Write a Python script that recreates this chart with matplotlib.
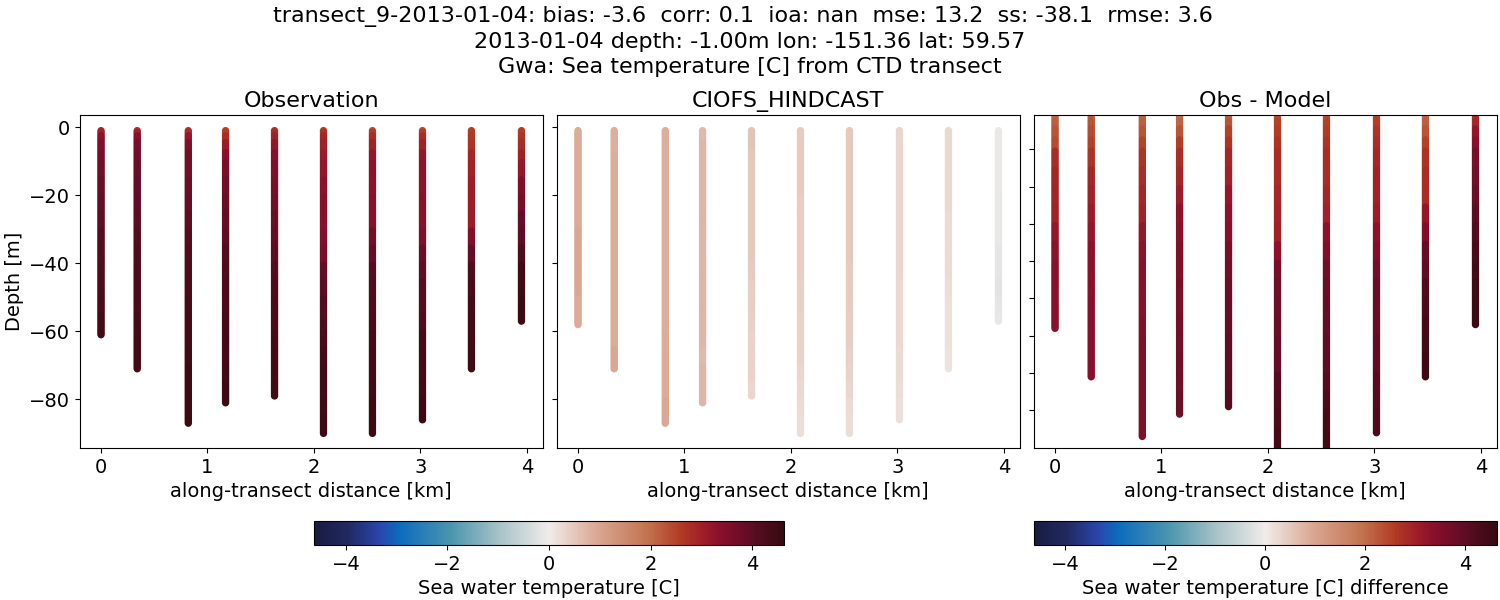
import numpy as np
import matplotlib
matplotlib.use('Agg')
import matplotlib.pyplot as plt
from matplotlib.colors import LinearSegmentedColormap, Normalize
from matplotlib.cm import ScalarMappable

# station positions along the transect [km]
distance = [0, 0.34, 0.82, 1.17, 1.63, 2.09, 2.55, 3.02, 3.48, 3.95]

# deepest sample per station [m]
obs_depth = [61, 71, 87, 81, 79, 90, 90, 86, 71, 57]
model_depth = [58, 71, 87, 81, 79, 90, 90, 86, 71, 57]

# lower edge of each depth layer the values below were read for [m]
layers = [1, 2, 4, 7, 10, 15, 20, 25, 30, 35, 40, 45, 50, 55, 60, 65, 70, 75, 80, 85, 90]

obs_temp = [
    [2.8, 3.0, 3.3, 3.5, 3.6, 3.7, 3.8, 3.9, 4.0, 4.1, 4.15, 4.2, 4.25, 4.3, 4.35, 4.4],
    [2.7, 3.0, 3.4, 3.6, 3.7, 3.8, 3.9, 3.95, 4.05, 4.15, 4.2, 4.25, 4.3, 4.3, 4.35, 4.4, 4.4, 4.4],
    [2.7, 2.8, 3.2, 3.5, 3.7, 3.7, 3.8, 3.9, 4.05, 4.15, 4.2, 4.25, 4.3, 4.35, 4.4, 4.4, 4.45, 4.5, 4.5, 4.55, 4.55],
    [2.5, 2.6, 2.8, 3.1, 3.4, 3.6, 3.7, 3.8, 3.9, 4.0, 4.15, 4.2, 4.3, 4.3, 4.35, 4.4, 4.4, 4.45, 4.5, 4.5],
    [2.7, 2.8, 3.0, 3.2, 3.4, 3.5, 3.6, 3.7, 3.8, 3.9, 4.0, 4.1, 4.2, 4.3, 4.3, 4.35, 4.4, 4.4, 4.45],
    [2.6, 2.7, 2.9, 3.0, 3.1, 3.2, 3.3, 3.4, 3.4, 3.5, 3.6, 3.9, 4.0, 4.1, 4.2, 4.3, 4.35, 4.4, 4.4, 4.45, 4.5],
    [2.4, 2.6, 2.8, 3.0, 3.2, 3.3, 3.3, 3.4, 3.4, 3.7, 3.9, 4.1, 4.2, 4.25, 4.3, 4.35, 4.4, 4.4, 4.45, 4.5, 4.5],
    [2.4, 2.6, 2.8, 3.0, 3.2, 3.3, 3.3, 3.4, 3.4, 3.5, 3.8, 4.0, 4.1, 4.15, 4.2, 4.35, 4.4, 4.4, 4.45, 4.5, 4.5],
    [2.6, 2.6, 2.65, 2.7, 2.9, 3.0, 3.05, 3.05, 3.1, 3.5, 3.9, 4.2, 4.3, 4.35, 4.4, 4.4, 4.45, 4.45],
    [2.6, 2.6, 2.7, 2.85, 3.0, 3.2, 3.5, 3.6, 3.9, 4.0, 4.2, 4.4, 4.45, 4.5, 4.5],
]

model_temp = [
    [0.9, 0.9, 0.9, 0.9, 0.9, 0.9, 0.9, 0.9, 0.9, 0.95, 0.95, 0.95, 0.95, 0.9, 0.9],
    [0.85, 0.85, 0.85, 0.85, 0.85, 0.9, 0.9, 0.9, 0.9, 0.9, 0.9, 0.9, 0.9, 0.9, 0.9, 0.9, 0.95, 0.95],
    [0.85, 0.85, 0.85, 0.85, 0.85, 0.85, 0.85, 0.85, 0.85, 0.85, 0.85, 0.85, 0.85, 0.85, 0.85, 0.9, 0.9, 0.9, 0.9, 0.95, 0.95],
    [0.72, 0.72, 0.72, 0.75, 0.75, 0.75, 0.75, 0.75, 0.75, 0.75, 0.75, 0.75, 0.75, 0.75, 0.75, 0.75, 0.72, 0.75, 0.75, 0.75],
    [0.55, 0.55, 0.55, 0.55, 0.52, 0.5, 0.5, 0.5, 0.5, 0.5, 0.48, 0.45, 0.42, 0.4, 0.38, 0.36, 0.35, 0.35, 0.32],
    [0.45, 0.45, 0.45, 0.45, 0.45, 0.45, 0.45, 0.42, 0.42, 0.42, 0.42, 0.4, 0.38, 0.38, 0.36, 0.36, 0.34, 0.32, 0.28, 0.24, 0.2],
    [0.5, 0.5, 0.5, 0.5, 0.5, 0.5, 0.5, 0.5, 0.48, 0.48, 0.48, 0.46, 0.44, 0.44, 0.42, 0.4, 0.38, 0.34, 0.3, 0.24, 0.2],
    [0.32, 0.32, 0.32, 0.32, 0.32, 0.32, 0.32, 0.32, 0.32, 0.32, 0.3, 0.3, 0.28, 0.28, 0.28, 0.26, 0.25, 0.22, 0.2, 0.17, 0.15],
    [0.28, 0.28, 0.28, 0.28, 0.28, 0.28, 0.27, 0.26, 0.25, 0.25, 0.24, 0.22, 0.2, 0.18, 0.17, 0.15, 0.14, 0.12],
    [-0.08, -0.08, -0.08, -0.08, -0.1, -0.1, -0.1, -0.12, -0.12, -0.14, -0.16, -0.18, -0.2, -0.16, -0.14],
]

diff_temp = [
    [2.1, 2.1, 2.2, 2.3, 2.4, 2.8, 2.9, 2.95, 3.0, 3.2, 3.3, 3.4, 3.4, 3.4, 3.4],
    [2.2, 2.2, 2.3, 2.4, 2.5, 2.7, 2.9, 3.0, 3.1, 3.2, 3.3, 3.3, 3.35, 3.4, 3.4, 3.4, 3.4, 3.4],
    [2.1, 2.1, 2.2, 2.3, 2.5, 2.7, 2.8, 2.9, 3.0, 3.2, 3.3, 3.4, 3.4, 3.4, 3.45, 3.5, 3.5, 3.5, 3.5, 3.5, 3.5],
    [2.0, 2.0, 2.1, 2.3, 2.6, 2.8, 2.9, 3.1, 3.3, 3.4, 3.5, 3.5, 3.6, 3.6, 3.65, 3.7, 3.7, 3.75, 3.8, 3.8],
    [2.2, 2.2, 2.3, 2.5, 2.7, 2.9, 3.0, 3.2, 3.3, 3.4, 3.6, 3.7, 3.8, 3.85, 3.9, 3.95, 4.0, 4.05, 4.1],
    [2.4, 2.4, 2.5, 2.6, 2.7, 2.8, 2.8, 2.9, 2.95, 3.0, 3.3, 3.6, 3.7, 3.75, 3.8, 3.85, 3.9, 4.1, 4.2, 4.3, 4.4],
    [2.4, 2.4, 2.5, 2.6, 2.7, 2.8, 2.8, 2.9, 3.0, 3.3, 3.5, 3.7, 3.8, 3.85, 3.9, 3.95, 4.0, 4.1, 4.3, 4.4, 4.45],
    [2.5, 2.5, 2.6, 2.7, 2.8, 2.9, 3.0, 3.0, 3.1, 3.3, 3.5, 3.7, 3.8, 3.85, 3.9, 3.95, 4.0, 4.1, 4.2, 4.3, 4.3],
    [2.1, 2.1, 2.2, 2.3, 2.5, 2.7, 2.8, 2.8, 3.2, 3.5, 3.9, 4.0, 4.2, 4.3, 4.4, 4.45, 4.5, 4.5],
    [2.7, 2.8, 2.9, 3.2, 3.4, 3.6, 3.7, 3.8, 4.0, 4.1, 4.3, 4.4, 4.5, 4.5, 4.55],
]

# colours, bottom to top
balance = LinearSegmentedColormap.from_list('balance', [
    (0.00, '#181c43'), (0.07, '#21295f'), (0.14, '#2a47ae'), (0.18, '#0c6bbd'),
    (0.29, '#4a95ae'), (0.395, '#a8c3c8'), (0.50, '#f0ecea'), (0.60, '#dba995'),
    (0.71, '#c27350'), (0.78, '#b23c24'), (0.83, '#9f1d28'), (0.865, '#8a0f2b'),
    (0.925, '#620d26'), (1.00, '#360a10'),
], N=256)

W, H = 1500, 600
plt.rcParams['font.size'] = 14
vmax = 4.63
norm = Normalize(-vmax, vmax)


def px_axes(left, top, right, bottom):
    return fig.add_axes([left / W, 1 - bottom / H, (right - left) / W, (bottom - top) / H])


def draw(ax, depths, temps):
    for x, deep, values in zip(distance, depths, temps):
        z = np.arange(1, deep + 0.5, 0.5)
        t = np.array(values)[np.searchsorted(layers, z)]
        ax.scatter(np.full(z.shape, x), -z, c=t, cmap=balance, norm=norm, s=28, linewidths=0)
    ax.set_xlim(-0.1975, 4.1475)
    ax.set_xlabel('along-transect distance [km]', fontsize=14)


fig = plt.figure(figsize=(15, 6), dpi=100)

ax1 = px_axes(80, 115, 542.5, 448)
ax2 = px_axes(557, 115, 1019.5, 448)
ax3 = px_axes(1034, 115, 1496.5, 448)

draw(ax1, obs_depth, obs_temp)
draw(ax2, model_depth, model_temp)
draw(ax3, model_depth, diff_temp)

ax1.set_ylim(-94.3, 3.6)
ax1.set_yticks([-80, -60, -40, -20, 0])
ax1.set_ylabel('Depth [m]', fontsize=14)
ax2.set_ylim(-94.3, 3.6)
ax2.set_yticks([-80, -60, -40, -20, 0])
ax2.set_yticklabels([])
ax3.set_ylim(-90.1, -0.8)
ax3.set_yticks(np.arange(-80, 0, 10))
ax3.set_yticklabels([])

ax1.set_title('Observation', fontsize=16)
ax2.set_title('CIOFS_HINDCAST', fontsize=16)
ax3.set_title('Obs - Model', fontsize=16)

fig.suptitle('transect_9-2013-01-04: bias: -3.6  corr: 0.1  ioa: nan  mse: 13.2  ss: -38.1  rmse: 3.6  \n'
             '2013-01-04 depth: -1.00m lon: -151.36 lat: 59.57\n'
             'Gwa: Sea temperature [C] from CTD transect', fontsize=16, y=0.99, linespacing=1.3)

cax1 = px_axes(314, 521, 784, 545)
cb1 = fig.colorbar(ScalarMappable(norm=norm, cmap=balance), cax=cax1, orientation='horizontal')
cb1.set_label('Sea water temperature [C]', fontsize=14)
cb1.set_ticks([-4, -2, 0, 2, 4])

cax2 = px_axes(1034, 521, 1496.5, 545)
cb2 = fig.colorbar(ScalarMappable(norm=norm, cmap=balance), cax=cax2, orientation='horizontal')
cb2.set_label('Sea water temperature [C] difference', fontsize=14)
cb2.set_ticks([-4, -2, 0, 2, 4])

plt.savefig('out.png', dpi=100)
